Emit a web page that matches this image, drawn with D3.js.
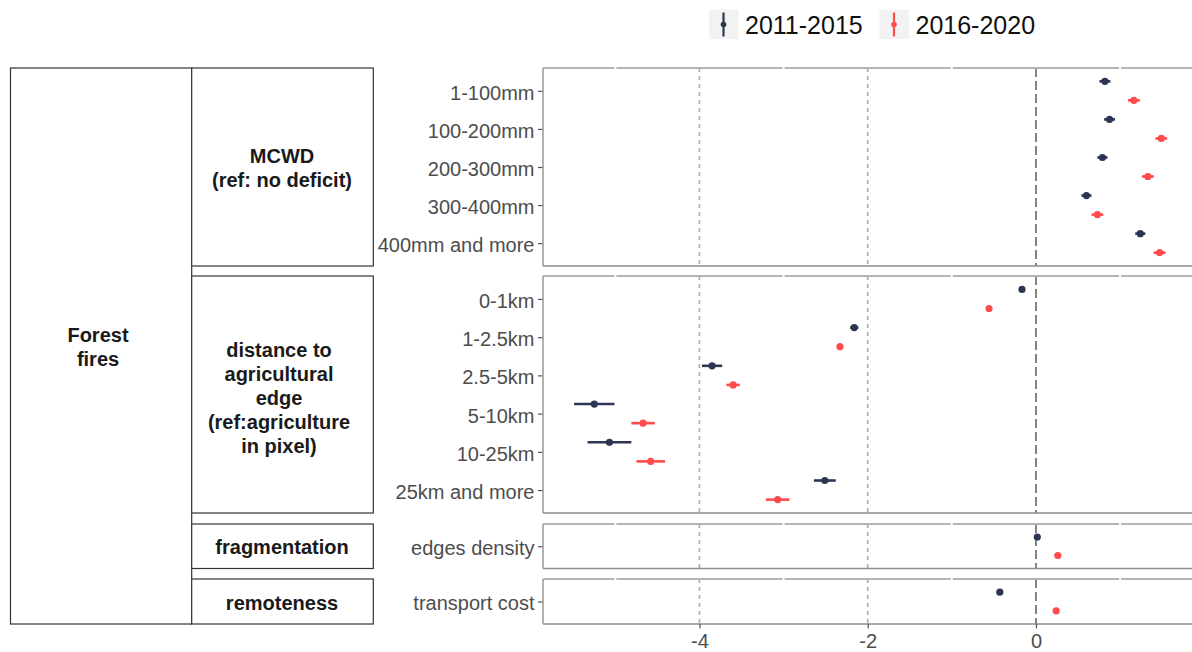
<!DOCTYPE html>
<html>
<head>
<meta charset="utf-8">
<script src="https://cdn.jsdelivr.net/npm/d3@7"></script>
<style>
  html, body { margin: 0; padding: 0; background: #fff; }
  svg { display: block; font-family: "Liberation Sans", Arial, sans-serif; }
</style>
</head>
<body>
<svg id="chart" width="1192" height="652"></svg>
<script>
// ---------------- DATA ----------------
const periods = ["2011-2015", "2016-2020"];
const periodColors = ["#2c3553", "#ff4b4b"];

const outerStrip = ["Forest", "fires"];
const innerStrips = [
  ["MCWD", "(ref: no deficit)"],
  ["distance to", "agricultural", "edge", "(ref:agriculture", "in pixel)"],
  ["fragmentation"],
  ["remoteness"]
];

const mcwdCats = ["1-100mm", "100-200mm", "200-300mm", "300-400mm", "400mm and more"];
const distCats = ["0-1km", "1-2.5km", "2.5-5km", "5-10km", "10-25km", "25km and more"];
const fragCats = ["edges density"];
const remoteCats = ["transport cost"];

// 2011-2015 estimates and intervals
const mcwd2011 = [0.82, 0.875, 0.79, 0.60, 1.24];
const mcwd2011Lo = [0.755, 0.81, 0.73, 0.54, 1.18];
const mcwd2011Hi = [0.885, 0.94, 0.85, 0.66, 1.30];
const dist2011 = [-0.166, -2.16, -3.85, -5.25, -5.07, -2.51];
const dist2011Lo = [-0.186, -2.21, -3.97, -5.49, -5.33, -2.64];
const dist2011Hi = [-0.146, -2.11, -3.73, -5.01, -4.81, -2.38];
const frag2011 = [0.016], frag2011Lo = [0.006], frag2011Hi = [0.026];
const remote2011 = [-0.43], remote2011Lo = [-0.44], remote2011Hi = [-0.42];

// 2016-2020 estimates and intervals
const mcwd2016 = [1.164, 1.49, 1.33, 0.73, 1.47];
const mcwd2016Lo = [1.094, 1.42, 1.26, 0.66, 1.40];
const mcwd2016Hi = [1.234, 1.56, 1.40, 0.80, 1.54];
const dist2016 = [-0.558, -2.33, -3.60, -4.67, -4.58, -3.07];
const dist2016Lo = [-0.578, -2.36, -3.68, -4.81, -4.75, -3.21];
const dist2016Hi = [-0.538, -2.30, -3.52, -4.53, -4.41, -2.93];
const frag2016 = [0.26], frag2016Lo = [0.25], frag2016Hi = [0.27];
const remote2016 = [0.24], remote2016Lo = [0.23], remote2016Hi = [0.25];

const xTicks = [-4, -2, 0];
const xMinor = [-5, -3, -1, 1];

// --------------- BUILD -----------------
const facets = [
  { cats: mcwdCats, s: [[mcwd2011, mcwd2011Lo, mcwd2011Hi], [mcwd2016, mcwd2016Lo, mcwd2016Hi]] },
  { cats: distCats, s: [[dist2011, dist2011Lo, dist2011Hi], [dist2016, dist2016Lo, dist2016Hi]] },
  { cats: fragCats, s: [[frag2011, frag2011Lo, frag2011Hi], [frag2016, frag2016Lo, frag2016Hi]] },
  { cats: remoteCats, s: [[remote2011, remote2011Lo, remote2011Hi], [remote2016, remote2016Lo, remote2016Hi]] }
];
const panelBounds = [[68, 266], [276, 513], [524, 568.5], [579, 624]];

const svg = d3.select("#chart");
const panelLeft = 543, panelRight = 1200;
const x = d3.scaleLinear().domain([-5.86, 1.95]).range([panelLeft, panelRight]);

// outer strip
const stripStroke = "#333333";
const outerX0 = 10.5, outerX1 = 191.7, innerX1 = 373.3;
svg.append("rect")
  .attr("x", outerX0).attr("y", 68).attr("width", outerX1 - outerX0).attr("height", 624 - 68)
  .attr("fill", "#fff").attr("stroke", stripStroke).attr("stroke-width", 1.2);
const outerText = svg.append("text")
  .attr("text-anchor", "middle").attr("font-weight", "bold").attr("font-size", 20).attr("fill", "#1a1a1a");
outerStrip.forEach((line, i) => {
  outerText.append("tspan").attr("x", 98).attr("y", 335 + i * 24).attr("dy", "0.35em").text(line);
});

facets.forEach((f, fi) => {
  const [top, bottom] = panelBounds[fi];
  const y = d3.scalePoint().domain(f.cats).range([top, bottom]).padding(0.6);
  const dodge = y.step() * 0.25;

  // inner strip
  svg.append("rect")
    .attr("x", outerX1).attr("y", top).attr("width", innerX1 - outerX1).attr("height", bottom - top)
    .attr("fill", "#fff").attr("stroke", stripStroke).attr("stroke-width", 1.2);
  const lines = innerStrips[fi];
  const cy = (top + bottom) / 2 + (fi === 1 ? 3 : 1);
  const t = svg.append("text")
    .attr("text-anchor", "middle").attr("font-weight", "bold").attr("font-size", 20).attr("fill", "#1a1a1a");
  lines.forEach((line, i) => {
    t.append("tspan")
      .attr("x", fi === 1 ? 279 : 282)
      .attr("y", cy + (i - (lines.length - 1) / 2) * 24)
      .attr("dy", "0.35em")
      .text(line);
  });

  // panel background
  svg.append("rect")
    .attr("x", panelLeft).attr("y", top).attr("width", panelRight - panelLeft).attr("height", bottom - top)
    .attr("fill", "#fff");

  // reference lines
  xTicks.forEach(v => {
    svg.append("line")
      .attr("x1", x(v)).attr("x2", x(v)).attr("y1", top).attr("y2", bottom)
      .attr("stroke", v === 0 ? "#666" : "#aaaaaa")
      .attr("stroke-width", 1.6)
      .attr("stroke-dasharray", v === 0 ? "9,4" : "4,4");
  });

  // border
  svg.append("line").attr("x1", panelLeft).attr("x2", panelRight).attr("y1", top).attr("y2", top)
    .attr("stroke", "#b5b5b5").attr("stroke-width", 2);
  svg.append("line").attr("x1", panelLeft).attr("x2", panelRight).attr("y1", bottom).attr("y2", bottom)
    .attr("stroke", "#8c8c8c").attr("stroke-width", 1.6);
  svg.append("line").attr("x1", panelLeft).attr("x2", panelLeft).attr("y1", top).attr("y2", bottom)
    .attr("stroke", "#999").attr("stroke-width", 1.5);
  // white minor grid gaps on top border
  xMinor.forEach(v => {
    svg.append("rect").attr("x", x(v) - 1).attr("y", top - 1.5).attr("width", 2).attr("height", 3)
      .attr("fill", "#fff");
  });

  // y axis
  const ay = svg.append("g").attr("transform", `translate(${panelLeft - 0.5},0)`)
    .call(d3.axisLeft(y).tickSize(4.5).tickPadding(3.5));
  ay.select(".domain").remove();
  ay.selectAll(".tick line").attr("stroke", "#555").attr("stroke-width", 1.2);
  ay.selectAll(".tick text").attr("font-size", 20).attr("fill", "#4d4d4d").attr("dy", "0.42em")
    .attr("font-family", "Liberation Sans, Arial, sans-serif");

  // data
  f.s.forEach((ser, si) => {
    const [est, lo, hi] = ser;
    const off = si === 0 ? -dodge : dodge;
    const g = svg.append("g");
    f.cats.forEach((c, ci) => {
      const yy = y(c) + off;
      g.append("line")
        .attr("x1", x(lo[ci])).attr("x2", x(hi[ci])).attr("y1", yy).attr("y2", yy)
        .attr("stroke", periodColors[si]).attr("stroke-width", 2.6);
      g.append("circle")
        .attr("cx", x(est[ci])).attr("cy", yy).attr("r", 3.6)
        .attr("fill", periodColors[si]);
    });
  });
});

// x axis
const ax = svg.append("g").attr("transform", "translate(0,624)")
  .call(d3.axisBottom(x).tickValues(xTicks).tickSize(4.5).tickPadding(5).tickFormat(d3.format("d")));
ax.select(".domain").remove();
ax.selectAll(".tick line").attr("stroke", "#555").attr("stroke-width", 1.2);
ax.selectAll(".tick text").attr("font-size", 20).attr("fill", "#4d4d4d")
  .attr("font-family", "Liberation Sans, Arial, sans-serif")
  .text(d => d < 0 ? "-" + Math.abs(d) : d);

// legend
const legendKeys = [709, 879.5];
periods.forEach((p, i) => {
  const kx = legendKeys[i];
  svg.append("rect").attr("x", kx).attr("y", 9.5).attr("width", 29.5).attr("height", 29.5).attr("fill", "#f2f2f2");
  svg.append("line").attr("x1", kx + 14.5).attr("x2", kx + 14.5).attr("y1", 12.5).attr("y2", 36.5)
    .attr("stroke", periodColors[i]).attr("stroke-width", 2.2);
  svg.append("circle").attr("cx", kx + 14.5).attr("cy", 24.5).attr("r", 2.8).attr("fill", periodColors[i]);
  svg.append("text").attr("x", kx + 36).attr("y", 24.5).attr("dy", "0.36em")
    .attr("font-size", 25).attr("fill", "#111").text(p);
});
</script>
</body>
</html>
